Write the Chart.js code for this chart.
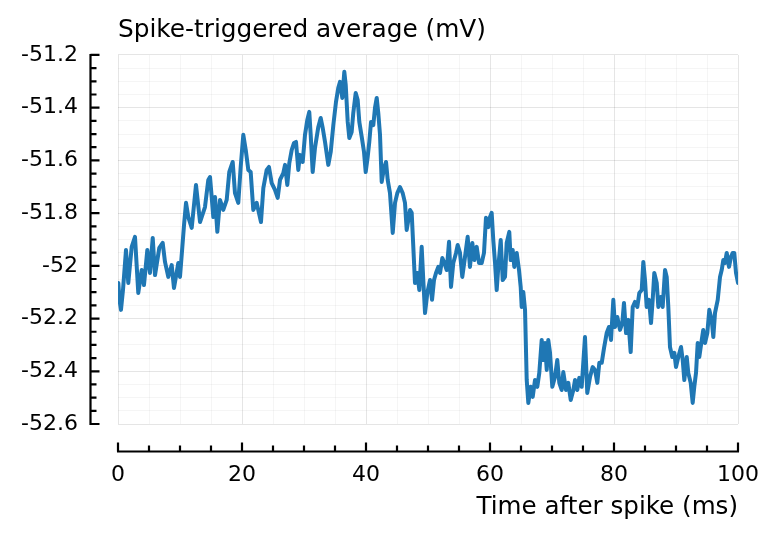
<!DOCTYPE html>
<html>
<head>
<meta charset="utf-8">
<title>Spike-triggered average</title>
<script src="https://cdn.jsdelivr.net/npm/chart.js@4.4.1/dist/chart.umd.min.js"></script>
<style>
  html, body { margin: 0; padding: 0; background: #fff; }
</style>
</head>
<body>
<canvas id="staChart" width="779" height="540"></canvas>
<script>
// time after spike (ms)
const timeMs = [
  0.05, 0.24, 0.48, 0.81, 1.29, 1.66, 2.21, 2.74, 3.27, 3.82, 4.19, 4.73, 5.16, 5.60, 5.97, 6.66, 7.21, 7.58, 8.11, 8.66,
  9.03, 9.73, 10.0, 10.65, 10.97, 11.34, 11.89, 12.58, 13.23, 14.03, 14.56,
  14.84, 15.11, 15.37, 15.65, 16.02, 16.45, 16.98, 17.53, 17.95, 18.50, 18.87, 19.40, 19.79, 20.21, 20.60, 21.02, 21.40, 21.82, 22.37,
  23.06, 23.44, 23.98, 24.35, 24.79, 25.32, 25.76, 26.13, 26.66, 26.94, 27.31, 27.63, 28.02, 28.39, 28.71, 29.08,
  29.35, 29.79, 30.16, 30.53, 30.85, 31.08, 31.40, 31.77, 32.31, 32.69, 33.02, 33.39, 33.92, 34.31, 34.73, 35.16, 35.53, 35.81, 36.18, 36.50,
  36.73, 37.05, 37.31, 37.69, 37.95, 38.34, 38.66, 38.92, 39.31, 39.68, 39.95, 40.27, 40.53, 40.81, 41.18, 41.45, 41.73, 41.98, 42.26, 42.53,
  42.90, 43.23, 43.50,
  43.87, 44.31, 44.68, 45.05, 45.48, 45.92, 46.29, 46.56, 47.10, 47.37, 47.63, 47.90, 48.27, 48.60, 48.98, 49.24, 49.52, 49.89, 50.32, 50.65,
  50.97, 51.29, 51.66, 51.94, 52.31, 52.63, 53.02, 53.39, 53.71, 54.08, 54.52, 54.79, 55.16, 55.53, 55.97, 56.40, 56.77, 57.15, 57.47, 57.85,
  58.23,
  58.66, 59.03, 59.35, 59.73, 60.00, 60.27, 60.53, 60.81, 61.08, 61.34, 61.73, 62.05, 62.42, 62.69, 63.11, 63.34, 63.66, 63.92, 64.31, 64.68,
  64.95, 65.11, 65.37, 65.65, 65.92, 66.18, 66.56, 66.89, 67.26, 67.63, 67.95, 68.34, 68.60, 68.87, 69.15, 69.40, 69.68, 70.05, 70.48, 70.85,
  71.18, 71.56, 71.82, 72.26, 72.63, 73.02, 73.44, 73.71, 74.08, 74.40,
  74.79, 75.32, 75.69, 76.13, 76.56, 76.94, 77.31, 77.63, 78.02, 78.39, 78.82, 79.19, 79.52, 79.89, 80.16, 80.53, 80.97, 81.34, 81.61, 81.94,
  82.31, 82.69, 83.02, 83.39, 83.76, 84.08, 84.47, 84.73, 85.00, 85.27, 85.65, 85.97, 86.24, 86.50, 86.89, 87.15, 87.53, 87.85, 88.23, 88.50,
  88.76, 89.03, 89.40, 89.73, 90.00, 90.37, 90.81, 91.08, 91.34, 91.73, 91.98, 92.37, 92.69, 92.95, 93.23, 93.50, 93.76, 94.15, 94.40, 94.68,
  95.05, 95.37, 95.76, 96.02, 96.29, 96.73, 97.10, 97.37, 97.63, 97.90, 98.18, 98.55, 98.87, 99.15, 99.40, 99.68, 100
];

// spike-triggered average membrane potential (mV)
const staMv = [
  -52.065, -52.13, -52.167, -52.09, -51.94, -52.065, -51.928, -51.89, -52.103, -52.016, -52.073, -51.94, -52.027, -51.894, -52.035, -51.932, -51.913, -51.985, -52.042, -51.997,
  -52.084, -51.989, -52.042, -51.845, -51.761, -51.815, -51.856, -51.693, -51.834, -51.777, -51.674,
  -51.663, -51.739, -51.815, -51.739, -51.871, -51.750, -51.788, -51.750, -51.644, -51.606, -51.724, -51.761, -51.625, -51.503, -51.560, -51.636, -51.644, -51.788, -51.761,
  -51.834, -51.705, -51.636, -51.625, -51.686, -51.712, -51.742, -51.674, -51.648, -51.617, -51.693, -51.610, -51.560, -51.534, -51.530, -51.636,
  -51.579, -51.606, -51.503, -51.447, -51.416, -51.503, -51.644, -51.553, -51.473, -51.439, -51.477, -51.530, -51.617, -51.568, -51.466, -51.378, -51.325, -51.302, -51.363, -51.264,
  -51.314, -51.454, -51.515, -51.492, -51.420, -51.344, -51.371, -51.454, -51.511, -51.568, -51.644, -51.587, -51.530, -51.454, -51.466, -51.401, -51.363, -51.420, -51.503, -51.682,
  -51.629, -51.606, -51.674,
  -51.724, -51.875, -51.761, -51.724, -51.701, -51.724, -51.761, -51.864, -51.788, -51.799, -51.928, -52.065, -52.027, -52.092, -51.928, -52.054, -52.179, -52.103, -52.054, -52.129,
  -52.054, -52.027, -52.004, -52.027, -51.970, -51.989, -52.016, -51.909, -52.080, -51.989, -51.951, -51.921, -51.951, -52.042, -51.966, -51.890, -52.004, -51.913, -51.978, -51.928,
  -51.989,
  -51.989, -51.951, -51.818, -51.853, -51.815, -51.799, -51.902, -51.989, -52.092, -52.004, -51.902, -52.054, -52.042, -51.913, -51.871, -51.978, -51.940, -52.004, -51.951, -52.016,
  -52.080, -52.156, -52.099, -52.167, -52.433, -52.520, -52.459, -52.497, -52.433, -52.459, -52.406, -52.281, -52.357, -52.293, -52.395, -52.281, -52.330, -52.459, -52.422, -52.357,
  -52.444, -52.471, -52.403, -52.471, -52.444, -52.509, -52.471, -52.433, -52.471, -52.425,
  -52.459, -52.270, -52.482, -52.422, -52.384, -52.395, -52.444, -52.368, -52.368, -52.312, -52.255, -52.232, -52.281, -52.129, -52.232, -52.194, -52.243, -52.217, -52.141, -52.255,
  -52.205, -52.327, -52.156, -52.137, -52.156, -52.103, -52.092, -51.985, -52.054, -52.156, -52.129, -52.217, -52.129, -52.027, -52.065, -52.156, -52.118, -52.156, -52.016, -52.042,
  -52.156, -52.308, -52.346, -52.330, -52.384, -52.346, -52.308, -52.357, -52.433, -52.346, -52.406, -52.444, -52.520, -52.459, -52.406, -52.293, -52.346, -52.281, -52.243, -52.293,
  -52.255, -52.167, -52.205, -52.270, -52.179, -52.129, -52.042, -52.016, -51.978, -51.989, -51.951, -52.004, -51.966, -51.951, -51.951, -52.027, -52.065
];

// axis ranges and tick spacing
const xRange = [0, 100];
const xMajorStep = 20;
const xMinorStep = 5;
const yRange = [-52.6, -51.2];
const yMajorStep = 0.2;
const yMinorStep = 0.05;

function isMajor(value, step) {
  const r = value / step;
  return Math.abs(r - Math.round(r)) < 1e-6;
}

Chart.defaults.font.family = "'DejaVu Sans', sans-serif";
Chart.defaults.color = "#000";

// Makie-style axes: spines pulled away from the plot area, ticks pointing inward
const offsetSpines = {
  id: "offsetSpines",
  afterDraw(chart) {
    const { ctx } = chart;
    const x = chart.scales.x;
    const y = chart.scales.y;
    const spineX = 90.5;
    const spineY = 451.5;
    ctx.save();
    ctx.strokeStyle = "#000";
    ctx.lineWidth = 2.2;
    ctx.beginPath();
    ctx.moveTo(spineX, y.getPixelForValue(y.max) - 1);
    ctx.lineTo(spineX, y.getPixelForValue(y.min) + 1);
    y.ticks.forEach((t) => {
      const py = y.getPixelForValue(t.value);
      const len = isMajor(t.value, yMajorStep) ? 9 : 6;
      ctx.moveTo(spineX, py);
      ctx.lineTo(spineX + len, py);
    });
    ctx.moveTo(x.getPixelForValue(x.min) - 1, spineY);
    ctx.lineTo(x.getPixelForValue(x.max) + 1, spineY);
    x.ticks.forEach((t) => {
      const px = x.getPixelForValue(t.value);
      const len = isMajor(t.value, xMajorStep) ? 9 : 6;
      ctx.moveTo(px, spineY);
      ctx.lineTo(px, spineY - len);
    });
    ctx.stroke();
    ctx.restore();
  },
};

const points = timeMs.map((t, i) => ({ x: t, y: staMv[i] }));

new Chart(document.getElementById("staChart"), {
  type: "line",
  data: {
    datasets: [
      {
        data: points,
        borderColor: "#1f77b4",
        borderWidth: 4,
        pointRadius: 0,
        tension: 0,
        borderJoinStyle: "round",
        borderCapStyle: "round",
      },
    ],
  },
  options: {
    responsive: false,
    animation: false,
    devicePixelRatio: 1,
    layout: {
      padding: { left: 0, right: 41, top: 0, bottom: 0 },
    },
    plugins: {
      legend: { display: false },
      tooltip: { enabled: false },
      title: {
        display: true,
        text: "Spike-triggered average (mV)",
        align: "start",
        fullSize: false,
        color: "#000",
        font: { size: 24.8, weight: "normal", lineHeight: 1.2 },
        padding: { top: 16, bottom: 9.2 },
      },
    },
    scales: {
      x: {
        type: "linear",
        min: xRange[0],
        max: xRange[1],
        afterFit(scale) {
          scale.height = 116;
          scale.paddingLeft = 0;
          scale.paddingRight = 0;
        },
        ticks: {
          stepSize: xMinorStep,
          autoSkip: false,
          maxRotation: 0,
          padding: 38,
          font: { size: 22 },
          callback: (v) => (isMajor(v, xMajorStep) ? String(v) : ""),
        },
        grid: {
          drawTicks: false,
          lineWidth: 1,
          color: (c) => (isMajor(c.tick.value, xMajorStep) ? "rgba(0,0,0,0.1)" : "rgba(0,0,0,0.04)"),
        },
        border: { display: false },
        title: {
          display: true,
          text: "Time after spike (ms)",
          align: "end",
          font: { size: 24.6, lineHeight: 1.2 },
          padding: { top: 0, bottom: 18 },
        },
      },
      y: {
        type: "linear",
        min: yRange[0],
        max: yRange[1],
        afterFit(scale) {
          scale.width = 118;
          scale.paddingTop = 0;
          scale.paddingBottom = 0;
        },
        ticks: {
          stepSize: yMinorStep,
          autoSkip: false,
          padding: 40,
          font: { size: 22 },
          callback: (v) => (isMajor(v, yMajorStep) ? String(Math.round(v * 10) / 10) : ""),
        },
        grid: {
          drawTicks: false,
          lineWidth: 1,
          color: (c) => (isMajor(c.tick.value, yMajorStep) ? "rgba(0,0,0,0.1)" : "rgba(0,0,0,0.04)"),
        },
        border: { display: false },
      },
    },
  },
  plugins: [offsetSpines],
});
</script>
</body>
</html>
